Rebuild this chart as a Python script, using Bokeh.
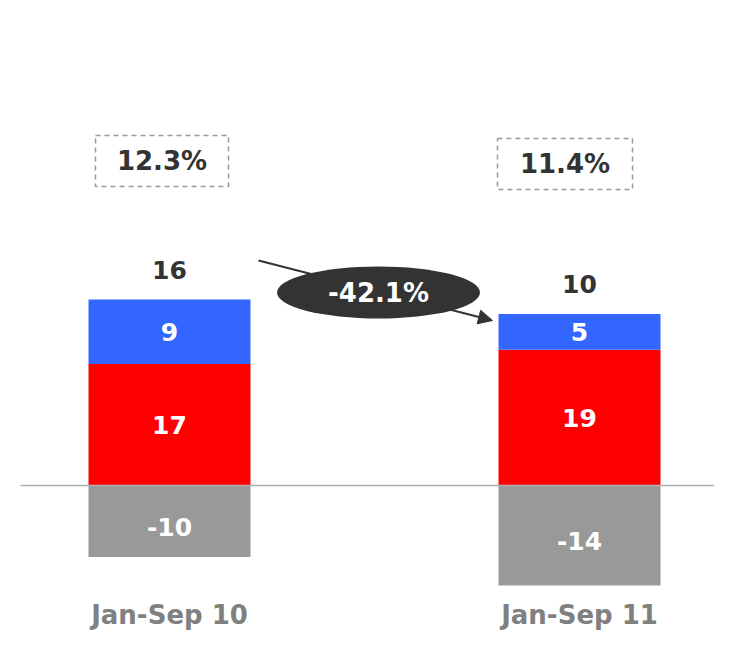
from bokeh.plotting import figure
from bokeh.models import Range1d, Arrow, NormalHead
from bokeh.embed import file_html
from bokeh.resources import INLINE
from bokeh.core.properties import value

# ---- data ----
categories = ["Jan-Sep 10", "Jan-Sep 11"]
red_vals = [17, 19]
blue_vals = [9, 5]
grey_vals = [-10, -14]
totals = [16, 10]
margins = ["12.3%", "11.4%"]
change_label = "-42.1%"

# ---- layout helpers (pixels of the figure) ----
W, H = 714, 632
PXX = 410.0          # px per category step
PXY = 7.15           # px per unit
X0_PX = 169.0        # px position of first category centre
BASE_PX = 485.0      # px (from top) of zero line

xr0 = -X0_PX / PXX
yr1 = BASE_PX / PXY
def dx(px):  # figure px -> data x
    return xr0 + px / PXX
def dy(py):  # figure px from top -> data y
    return yr1 - py / PXY

p = figure(width=W, height=H, output_backend="svg", toolbar_location=None,
           x_range=Range1d(xr0, xr0 + W / PXX),
           y_range=Range1d(yr1 - H / PXY, yr1),
           min_border=0)
p.axis.visible = False
p.grid.visible = False
p.outline_line_color = None
p.background_fill_color = "white"

FONT = value("DejaVu Sans")
xs = list(range(len(categories)))
bw = 162 / PXX

red_top = red_vals
blue_top = [r + b for r, b in zip(red_vals, blue_vals)]

p.vbar(x=xs, bottom=0, top=red_top, width=bw, fill_color="#FF0000", line_color=None)
p.vbar(x=xs, bottom=red_top, top=blue_top, width=bw, fill_color="#3366FF", line_color=None)
p.vbar(x=xs, bottom=0, top=grey_vals, width=bw, fill_color="#999999", line_color=None)

# zero line
p.segment(x0=[dx(20)], y0=[0], x1=[dx(W)], y1=[0], line_color="#b0b0b0", line_width=1.5)

# segment labels
p.text(x=xs, y=[r / 2 for r in red_vals], text=[str(v) for v in red_vals],
       text_color="white", text_font=FONT, text_font_style="bold", text_font_size="25px",
       text_align="center", text_baseline="middle")
p.text(x=xs, y=[r + b / 2 for r, b in zip(red_vals, blue_vals)], text=[str(v) for v in blue_vals],
       text_color="white", text_font=FONT, text_font_style="bold", text_font_size="25px",
       text_align="center", text_baseline="middle")
p.text(x=xs, y=[g / 2 - 0.8 for g in grey_vals], text=[str(v) for v in grey_vals],
       text_color="white", text_font=FONT, text_font_style="bold", text_font_size="25px",
       text_align="center", text_baseline="middle")
# totals
p.text(x=xs, y=[t + 30 / PXY for t in blue_top], text=[str(v) for v in totals],
       text_color="#333333", text_font=FONT, text_font_style="bold", text_font_size="25px",
       text_align="center", text_baseline="middle")

# category labels
p.text(x=xs, y=[dy(614)] * 2, text=categories,
       text_color="#808080", text_font=FONT, text_font_style="bold", text_font_size="26px",
       text_align="center", text_baseline="middle")

# margin boxes
bx = [dx(161.5), dx(564.5)]
by = [dy(160.5), dy(163.5)]
p.rect(x=bx, y=by, width=[133 / PXX, 135 / PXX], height=51 / PXY,
       fill_color=None, line_color="#999999", line_dash="5 4", line_width=1.5)
p.text(x=bx, y=by, text=margins, text_color="#333333", text_font=FONT,
       text_font_style="bold", text_font_size="26px",
       text_align="center", text_baseline="middle")

# arrow + ellipse
p.add_layout(Arrow(end=NormalHead(size=14, fill_color="#333333", line_color="#333333"),
                   x_start=dx(258), y_start=dy(260), x_end=dx(492), y_end=dy(320),
                   line_color="#333333", line_width=2))
p.ellipse(x=[dx(378)], y=[dy(292)], width=203 / PXX, height=52 / PXY,
          fill_color="#333333", line_color=None, level="overlay")
p.text(x=[dx(378)], y=[dy(292)], text=[change_label], text_color="white", text_font=FONT,
       text_font_style="bold", text_font_size="26px",
       text_align="center", text_baseline="middle", level="overlay")

open("out.html", "w").write(file_html(p, INLINE))
